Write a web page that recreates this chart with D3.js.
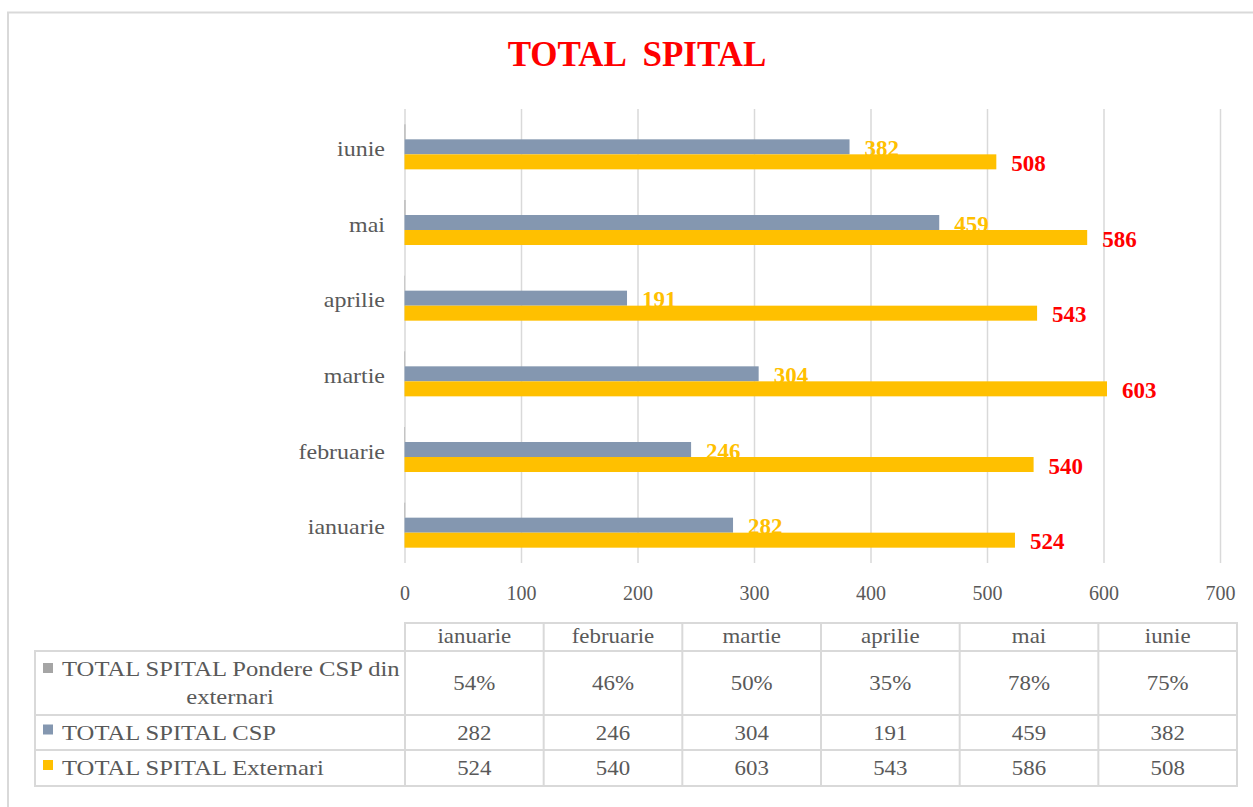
<!DOCTYPE html>
<html>
<head>
<meta charset="utf-8">
<script src="https://cdn.jsdelivr.net/npm/d3@7"></script>
<style>
    body { margin: 0; background: #ffffff; }
    text { font-family: "Liberation Serif", "Times New Roman", serif; }
</style>
</head>
<body>
<svg id="spital_plot" width="1253" height="807"></svg>
<script>
// the following arrays hold the chart data
const months       = ["ianuarie", "februarie", "martie", "aprilie", "mai", "iunie"];
const pondere      = [0.54, 0.46, 0.50, 0.35, 0.78, 0.75];
const pondereText  = ["54%", "46%", "50%", "35%", "78%", "75%"];
const csp          = [282, 246, 304, 191, 459, 382];
const externari    = [524, 540, 603, 543, 586, 508];
const xTicks       = [0, 100, 200, 300, 400, 500, 600, 700];
const seriesNames  = ["TOTAL SPITAL Pondere CSP din externari", "TOTAL SPITAL CSP", "TOTAL SPITAL Externari"];
const titleText    = "TOTAL  SPITAL";

const colors = { pondere: "#a5a5a5", csp: "#8497b0", externari: "#ffc000" };
const gridColor = "#d9d9d9";
const textColor = "#595959";

// the reference text is a bit wider than its height suggests
const stretch = 1.09;

var svg = d3.select("#spital_plot");

var plot = { left: 404.5, right: 1220, top: 109, bottom: 563 };

// helper: put a horizontally stretched text at (x, y)
function wideText(parent, x, y, size, anchor, k)
{
    return parent.append("text")
        .attr("transform", `translate(${x},${y}) scale(${k || stretch},1)`)
        .attr("text-anchor", anchor)
        .attr("font-size", size)
        .attr("fill", textColor);
}

// frame round the chart (only left and top sides are visible)
svg.append("path")
    .attr("d", "M8,807 V12.5 H1253")
    .attr("fill", "none")
    .attr("stroke", gridColor)
    .attr("stroke-width", 2);

// title
svg.append("text")
    .attr("x", 637)
    .attr("y", 66)
    .attr("text-anchor", "middle")
    .attr("font-size", 35)
    .attr("font-weight", "bold")
    .attr("fill", "#ff0000")
    .style("white-space", "pre")
    .text(titleText);

// scales
const xScale = d3.scaleLinear()
    .domain([0, 700])
    .range([plot.left, plot.right]);

const yScale = d3.scaleBand()
    .domain(months.slice().reverse())
    .range([plot.top, plot.bottom])
    .padding(0);

const bw = yScale.bandwidth();
const innerScale = d3.scaleBand()
    .domain(["pondere", "csp", "externari"])
    .range([bw * 0.2025, bw * 0.7975])
    .padding(0);

// gridlines + tick labels
const xAxis = d3.axisBottom(xScale)
    .tickValues(xTicks)
    .tickSize(-(plot.bottom - plot.top))
    .tickPadding(0);

const axisG = svg.append("g")
    .attr("transform", `translate(0,${plot.bottom})`)
    .call(xAxis);
axisG.select(".domain").remove();
axisG.selectAll(".tick line")
    .attr("stroke", gridColor)
    .attr("stroke-width", 1.5);
axisG.selectAll(".tick text")
    .attr("font-size", 20)
    .attr("fill", textColor)
    .attr("dy", 0)
    .attr("y", 37);

// category labels
const catG = svg.append("g");
months.forEach(m =>
{
    wideText(catG, 385, yScale(m) + bw / 2 + 9, 22, "end").text(m);
});

const rows = months.map((m, i) => ({ month: m, pondere: pondere[i], csp: csp[i], externari: externari[i] }));

// the following code is used to draw the bars, series by series
function drawBars(key)
{
    svg.append("g").selectAll("rect")
        .data(rows)
        .enter().append("rect")
        .attr("x", xScale(0))
        .attr("y", d => yScale(d.month) + innerScale(key))
        .attr("width", d => xScale(d[key]) - xScale(0))
        .attr("height", innerScale.bandwidth())
        .attr("fill", colors[key]);
}

drawBars("pondere");
drawBars("csp");

// CSP labels sit under the Externari bars
svg.append("g").selectAll("text")
    .data(rows)
    .enter().append("text")
    .attr("x", d => xScale(d.csp) + 15)
    .attr("y", d => yScale(d.month) + innerScale("csp") + innerScale.bandwidth() / 2 + 9)
    .attr("font-size", 23)
    .attr("font-weight", "bold")
    .attr("fill", colors.externari)
    .text(d => d.csp);

drawBars("externari");

svg.append("g").selectAll("text")
    .data(rows)
    .enter().append("text")
    .attr("x", d => xScale(d.externari) + 15)
    .attr("y", d => yScale(d.month) + innerScale("externari") + innerScale.bandwidth() / 2 + 9)
    .attr("font-size", 23)
    .attr("font-weight", "bold")
    .attr("fill", "#ff0000")
    .text(d => d.externari);

// the following code is used to draw the data table below the chart
const colScale = d3.scaleBand()
    .domain(months)
    .range([405, 1237]);

const table = { left: 35, headTop: 623, headBottom: 651, rowBottoms: [715, 750, 786] };
const tableRows = [
    { key: "pondere",   lines: ["TOTAL SPITAL Pondere CSP din", "externari"], values: pondereText },
    { key: "csp",       lines: [seriesNames[1]], values: csp },
    { key: "externari", lines: [seriesNames[2]], values: externari }
];

const tg = svg.append("g");
const lineAttr = sel => sel.attr("stroke", gridColor).attr("stroke-width", 2).attr("fill", "none");

// header row
tg.append("rect")
    .attr("x", 405).attr("y", table.headTop)
    .attr("width", 1237 - 405).attr("height", table.headBottom - table.headTop)
    .call(lineAttr);
months.forEach(m =>
{
    wideText(tg, colScale(m) + colScale.bandwidth() / 2, table.headBottom - 8, 21, "middle").text(m);
});

// body rows
tableRows.forEach((row, r) =>
{
    const top    = r === 0 ? table.headBottom : table.rowBottoms[r - 1];
    const bottom = table.rowBottoms[r];
    const mid    = (top + bottom) / 2;

    tg.append("rect")
        .attr("x", table.left).attr("y", top)
        .attr("width", 1237 - table.left).attr("height", bottom - top)
        .call(lineAttr);

    // legend key
    tg.append("rect")
        .attr("x", 43)
        .attr("y", (row.lines.length > 1 ? top + 17 : mid - 3) - 5)
        .attr("width", 10).attr("height", 10)
        .attr("fill", colors[row.key]);

    if (row.lines.length > 1)
    {
        wideText(tg, 62, top + 25, 22, "start", 1.12).text(row.lines[0]);
        wideText(tg, 230, top + 53, 22, "middle", 1.12).text(row.lines[1]);
    }
    else
    {
        wideText(tg, 62, mid + 7, 22, "start", 1.12).text(row.lines[0]);
    }

    months.forEach((m, i) =>
    {
        wideText(tg, colScale(m) + colScale.bandwidth() / 2, mid + 7, 21, "middle").text(row.values[i]);
    });
});

// column separators
tg.selectAll(".sep")
    .data(months.slice(1))
    .enter().append("line")
    .attr("x1", d => colScale(d)).attr("x2", d => colScale(d))
    .attr("y1", table.headTop).attr("y2", table.rowBottoms[2])
    .call(lineAttr);
tg.append("line")
    .attr("x1", 405).attr("x2", 405)
    .attr("y1", table.headTop).attr("y2", table.rowBottoms[2])
    .call(lineAttr);
</script>
</body>
</html>
